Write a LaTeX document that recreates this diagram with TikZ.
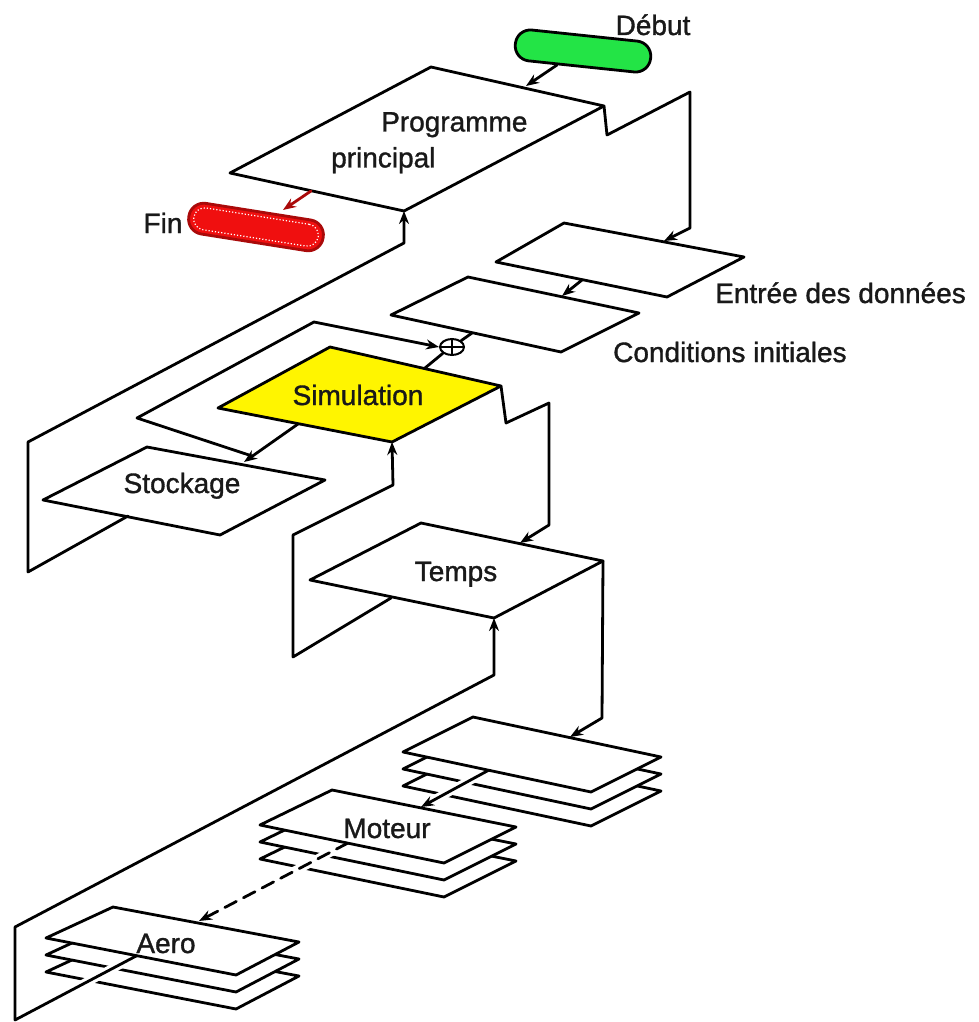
\documentclass[tikz,border=0pt]{standalone}
\usepackage{fontspec}
\setmainfont{Liberation Sans}
\newfontfamily\labfont{Liberation Sans}[BoldFont={Liberation Sans}, BoldFeatures={FakeBold=1.2}]
\usetikzlibrary{arrows.meta,shapes.geometric}
\definecolor{simyellow}{RGB}{255,245,0}
\definecolor{debutgreen}{RGB}{35,228,70}
\definecolor{finred}{RGB}{240,15,15}
\definecolor{finedge}{RGB}{170,10,10}
\definecolor{txt}{RGB}{25,25,25}
\begin{document}
\begin{tikzpicture}[x=1pt,y=-1pt,
  ln/.style={line width=2.8pt, line join=round, line cap=round},
  box/.style={ln, draw=black, fill=white},
  arr/.style={ln, -{Stealth[length=13pt,width=10pt]}},
  lab/.style={font=\labfont\bfseries\fontsize{28}{36}\selectfont, text=txt, inner sep=0pt},
  halo/.style={draw=white, line width=9pt},
  capsule/.style={draw, line width=2.8pt, rounded corners=15pt, minimum width=136pt, minimum height=31pt, inner sep=0pt}
]
\useasboundingbox (0,0) rectangle (978,1022);

% vertices
\coordinate (Pt) at (431,67);  \coordinate (Pr) at (604,106); \coordinate (Pb) at (404,211); \coordinate (Pl) at (230,173);
\coordinate (Et) at (564,223); \coordinate (Er) at (744,257); \coordinate (Eb) at (667,297); \coordinate (El) at (496,262);
\coordinate (Ct) at (468,277); \coordinate (Cr) at (639,313); \coordinate (Cb) at (561,352); \coordinate (Cl) at (391,315);
\coordinate (St) at (330,347); \coordinate (Sr) at (501,386); \coordinate (Sb) at (392,442); \coordinate (Sl) at (218,408);
\coordinate (Kt) at (147,447); \coordinate (Kr) at (325,480); \coordinate (Kb) at (220,535); \coordinate (Kl) at (43,500);
\coordinate (Tt) at (421,523); \coordinate (Tr) at (603,561); \coordinate (Tb) at (494,618); \coordinate (Tl) at (310,580);
\coordinate (Qt) at (473,717); \coordinate (Qr) at (661,757); \coordinate (Qb) at (591,792); \coordinate (Ql) at (403,752);
\coordinate (Mt) at (332,790); \coordinate (Mr) at (516,827); \coordinate (Mb) at (444,863); \coordinate (Ml) at (260,825);
\coordinate (At) at (113,907); \coordinate (Ar) at (299,942); \coordinate (Ab) at (236,975); \coordinate (Al) at (46,938);

% boxes
\draw[box] (Pt) -- (Pr) -- (Pb) -- (Pl) -- cycle;
\draw[box] (Et) -- (Er) -- (Eb) -- (El) -- cycle;
\draw[box] (Ct) -- (Cr) -- (Cb) -- (Cl) -- cycle;
\draw[box, fill=simyellow] (St) -- (Sr) -- (Sb) -- (Sl) -- cycle;
\draw[box] (Kt) -- (Kr) -- (Kb) -- (Kl) -- cycle;
\draw[box] (Tt) -- (Tr) -- (Tb) -- (Tl) -- cycle;

% walls and connectors
\coordinate (pw1) at (607,135); \coordinate (pw2) at (690,92); \coordinate (pw3) at (690,228); \coordinate (ein) at (664,241);
\draw[arr] (Pr) -- (pw1) -- (pw2) -- (pw3) -- (ein);
\coordinate (kout) at (128,516); \coordinate (kw1) at (28,572); \coordinate (kw2) at (28,442); \coordinate (kw3) at (404,243);
\draw[arr] (kout) -- (kw1) -- (kw2) -- (kw3) -- (Pb);
\coordinate (sw1) at (506,423); \coordinate (sw2) at (549,403); \coordinate (sw3) at (549,525); \coordinate (tin) at (520,543);
\draw[arr] (Sr) -- (sw1) -- (sw2) -- (sw3) -- (tin);
\coordinate (tout) at (391,598); \coordinate (tw1) at (293,657); \coordinate (tw2) at (293,535); \coordinate (tw3) at (393,485);
\draw[arr] (tout) -- (tw1) -- (tw2) -- (tw3) -- (Sb);
\coordinate (qw1) at (602,718); \coordinate (qin) at (570,737);
\draw[arr] (Tr) -- (qw1) -- (qin);

% loop frame, summing junction
\node[draw, line width=2pt, fill=white, ellipse, minimum width=24pt, minimum height=16pt, inner sep=0pt] (sum) at (452,347) {};
\draw[line width=1.8pt] (sum.west) -- (sum.east) (sum.north) -- (sum.south);
\coordinate (sout) at (298,424); \coordinate (kin) at (244,462);
\coordinate (fj) at (252,456); \coordinate (f1) at (137,418); \coordinate (f2) at (314,322);
\draw[arr] (sout) -- (kin);
\draw[arr] (fj) -- (f1) -- (f2) -- (sum.west);
\coordinate (cout) at (472,333); \coordinate (sin) at (425,368);
\draw[ln] (cout) -- (sum.north east);
\draw[ln] (sum.south west) -- (sin);
\coordinate (eout) at (582,280); \coordinate (cin) at (562,296);
\draw[arr] (eout) -- (cin);

% start / end
\node[capsule, fill=debutgreen, rotate=-6] (debut) at (583,51) {};
\coordinate (dout) at (557,65); \coordinate (pin) at (526,86);
\draw[arr] (dout) -- (pin);
\node[capsule, draw=finedge, fill=finred, rotate=-9] (fin) at (256,227) {};
\node[draw=white, line width=1.2pt, dotted, rounded corners=11pt, minimum width=126pt, minimum height=22pt, inner sep=0pt, rotate=-9] (findots) at (256,227) {};
\coordinate (pout) at (311,191); \coordinate (finin) at (283,210);
\draw[arr, draw=finedge] (pout) -- (finin);

% stack 1 (top right)
\foreach \k in {2,1} {\draw[box] ([yshift=-17pt*\k]Qt) -- ([yshift=-17pt*\k]Qr) -- ([yshift=-17pt*\k]Qb) -- ([yshift=-17pt*\k]Ql) -- cycle;}
\coordinate (qout) at (489,770); \coordinate (min) at (421,807);
\draw[halo] (qout) -- (min);
\draw[arr] (qout) -- (min);
\draw[box] (Qt) -- (Qr) -- (Qb) -- (Ql) -- cycle;

% stack 2 (Moteur)
\foreach \k in {2,1} {\draw[box] ([yshift=-17pt*\k]Mt) -- ([yshift=-17pt*\k]Mr) -- ([yshift=-17pt*\k]Mb) -- ([yshift=-17pt*\k]Ml) -- cycle;}
\coordinate (mout) at (348,843); \coordinate (ain) at (199,921);
\draw[halo] (mout) -- (ain);
\draw[arr, dash pattern=on 13pt off 8pt] (mout) -- (ain);
\draw[box] (Mt) -- (Mr) -- (Mb) -- (Ml) -- cycle;

% stack 3 (Aero)
\foreach \k in {2,1} {\draw[box] ([yshift=-17pt*\k]At) -- ([yshift=-17pt*\k]Ar) -- ([yshift=-17pt*\k]Ab) -- ([yshift=-17pt*\k]Al) -- cycle;}
\coordinate (aout) at (138,955); \coordinate (aw1) at (15,1020); \coordinate (aw2) at (15,927); \coordinate (aw3) at (494,675);
\draw[halo] (aout) -- (aw1);
\draw[arr] (aout) -- (aw1) -- (aw2) -- (aw3) -- (Tb);
\draw[box] (At) -- (Ar) -- (Ab) -- (Al) -- cycle;

% labels
\node[lab, anchor=base] (ldebut) at (653,35) {Début};
\node[lab, anchor=base] (lfin) at (163,233) {Fin};
\node[lab, align=left, anchor=north west] (lprog) at (331,112) {\hspace*{50pt}Programme\\principal};
\node[lab, anchor=base west] (lentree) at (715,303) {Entrée des données};
\node[lab, anchor=base west] (lcond) at (613,362) {Conditions initiales};
\node[lab, anchor=base] (lsim) at (358,405) {Simulation};
\node[lab, anchor=base] (lstock) at (182,493) {Stockage};
\node[lab, anchor=base] (ltemps) at (456,581) {Temps};
\node[lab, anchor=base] (lmot) at (387,838) {Moteur};
\node[lab, anchor=base] (laero) at (166,953) {Aero};
\end{tikzpicture}
\end{document}
